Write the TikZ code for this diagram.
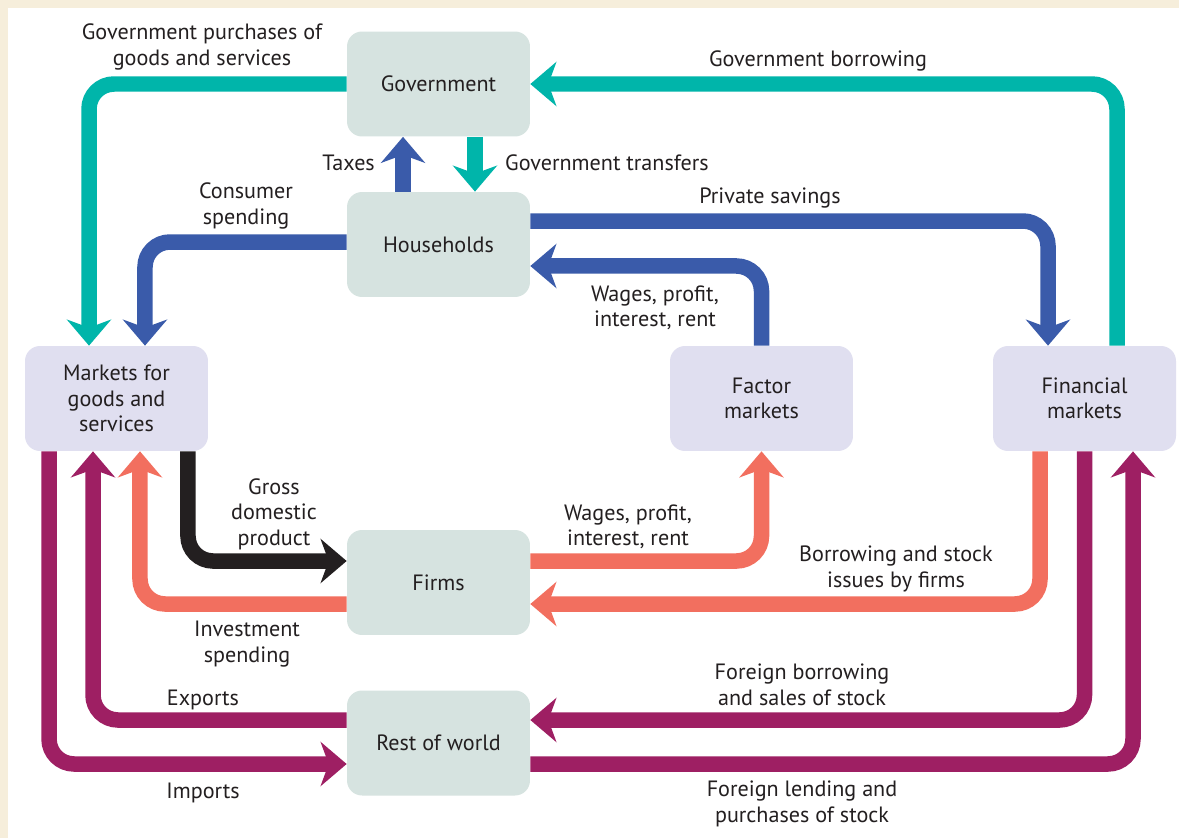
\documentclass[tikz,border=0pt]{standalone}
\usepackage{fontspec}
\setmainfont{PT Sans}
\usetikzlibrary{arrows.meta}
\definecolor{creamframe}{HTML}{F6EEDB}
\definecolor{sectorgreen}{HTML}{D6E3E0}
\definecolor{marketlilac}{HTML}{E0DFF0}
\definecolor{tealflow}{HTML}{00B5AA}
\definecolor{blueflow}{HTML}{3A5BAA}
\definecolor{salmonflow}{HTML}{F26F5F}
\definecolor{plumflow}{HTML}{9E1F63}
\definecolor{inkflow}{HTML}{231F20}

\begin{document}
\begin{tikzpicture}[x=0.02cm,y=-0.02cm,
    every node/.style={font=\fontsize{12.6}{14.5}\selectfont, text=inkflow},
    sector/.style={rounded corners=0.3cm, minimum width=3.66cm, minimum height=2.1cm,
      align=center, inner sep=0pt, fill=sectorgreen},
    market/.style={sector, fill=marketlilac},
    flow/.style={line width=0.31cm, rounded corners=0.5cm,
      -{Stealth[length=0.52cm,width=0.88cm,inset=0.16cm]}},
    lbl/.style={align=center}]
  % frame
  \fill[creamframe] (0,0) rectangle (1179,838);
  \fill[white] (8,8) rectangle (1179,838);
  \useasboundingbox (0,0) rectangle (1179,838);

  % sectors
  \node[sector] (gov) at (438.5,84) {Government};
  \node[sector] (hh) at (438.5,244.5) {Households};
  \node[sector] (firms) at (438.5,582.5) {Firms};
  \node[sector] (row) at (438.5,743) {Rest of world};
  \node[market] (mkt) at (116.5,398.5) {Markets for\\goods and\\services};
  \node[market] (fac) at (761.5,398.5) {Factor\\markets};
  \node[market] (fin) at (1084.5,398.5) {Financial\\markets};

  % flows
  \draw[flow, tealflow] (gov.west) -| ([xshift=-0.55cm]mkt.north);
  \draw[flow, blueflow] ([yshift=0.05cm]hh.west) -| ([xshift=0.57cm]mkt.north);
  \draw[flow, blueflow] ([xshift=-0.71cm]hh.north) -- ([xshift=-0.71cm]gov.south);
  \draw[flow, tealflow] ([xshift=0.73cm]gov.south) -- ([xshift=0.73cm]hh.north);
  \draw[flow, blueflow] ([yshift=0.47cm]hh.east) -| ([xshift=-0.73cm]fin.north);
  \draw[flow, blueflow] (fac.north) |- ([yshift=-0.43cm]hh.east);
  \draw[flow, tealflow] ([xshift=0.65cm]fin.north) |- (gov.east);
  \draw[flow, inkflow] ([xshift=1.43cm]mkt.south) |- ([yshift=0.43cm]firms.west);
  \draw[flow, salmonflow] ([yshift=-0.43cm]firms.west) -| ([xshift=0.47cm]mkt.south);
  \draw[flow, plumflow] ([yshift=0.46cm]row.west) -| ([xshift=-0.47cm]mkt.south);
  \draw[flow, plumflow] ([xshift=-1.35cm]mkt.south) |- ([yshift=-0.42cm]row.west);
  \draw[flow, salmonflow] ([yshift=0.43cm]firms.east) -| (fac.south);
  \draw[flow, salmonflow] ([xshift=-0.89cm]fin.south) |- ([yshift=-0.43cm]firms.east);
  \draw[flow, plumflow] (fin.south) |- ([yshift=0.46cm]row.east);
  \draw[flow, plumflow] ([yshift=-0.42cm]row.east) -| ([xshift=0.97cm]fin.south);

  % labels
  \node[lbl] (gpurch) at (202,47) {Government purchases of\\goods and services};
  \node[lbl] (gborrow) at (818,61) {Government borrowing};
  \node[lbl, anchor=east] (taxes) at (381,163) {Taxes};
  \node[lbl, anchor=west] (transfers) at (499,163) {Government transfers};
  \node[lbl] (consume) at (246,206) {Consumer\\spending};
  \node[lbl] (savings) at (770,198) {Private savings};
  \node[lbl] (wagesup) at (655,308) {Wages, profit,\\interest, rent};
  \node[lbl] (gdp) at (274,514) {Gross\\domestic\\product};
  \node[lbl] (wageslow) at (628,527) {Wages, profit,\\interest, rent};
  \node[lbl] (borrow) at (896,569) {Borrowing and stock\\issues by firms};
  \node[lbl] (invest) at (247,644) {Investment\\spending};
  \node[lbl] (fborrow) at (802,685) {Foreign borrowing\\and sales of stock};
  \node[lbl] (exports) at (203,700) {Exports};
  \node[lbl] (imports) at (203,793) {Imports};
  \node[lbl] (flend) at (802,804) {Foreign lending and\\purchases of stock};
\end{tikzpicture}
\end{document}
